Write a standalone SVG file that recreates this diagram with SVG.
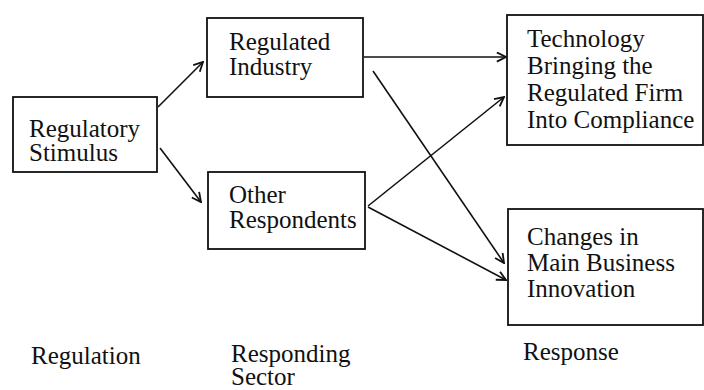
<svg xmlns="http://www.w3.org/2000/svg" width="704" height="390" viewBox="0 0 704 390">
<style>
.box{fill:#fff;stroke:#111;stroke-width:1.8}
.t{font-family:"Liberation Serif","Times New Roman",serif;font-size:25px;fill:#111}
.c{fill:none;stroke:#111;stroke-width:1.6}
</style>
<defs>
<marker id="arr" viewBox="0 0 12 12" refX="11" refY="6" markerWidth="11" markerHeight="11" markerUnits="userSpaceOnUse" orient="auto">
<path d="M1,1 L11,6 L1,11" fill="none" stroke="#111" stroke-width="2"/>
</marker>
</defs>
<rect width="704" height="390" fill="#fff"/>
<g id="connectors">
<line class="c" x1="158" y1="107" x2="203" y2="62" marker-end="url(#arr)"/>
<line class="c" x1="160" y1="148" x2="201" y2="202" marker-end="url(#arr)"/>
<line class="c" x1="364" y1="57" x2="506" y2="57" marker-end="url(#arr)"/>
<line class="c" x1="373" y1="71" x2="504" y2="263" marker-end="url(#arr)"/>
<line class="c" x1="368" y1="206" x2="504" y2="97" marker-end="url(#arr)"/>
<line class="c" x1="368" y1="207" x2="506" y2="280" marker-end="url(#arr)"/>
</g>
<g id="stimulus">
<rect class="box" x="13" y="97" width="144" height="75"/>
<text class="t" x="29" y="137">Regulatory</text>
<text class="t" x="29" y="161">Stimulus</text>
</g>
<g id="regulated">
<rect class="box" x="207" y="18" width="156" height="79"/>
<text class="t" x="229" y="50">Regulated</text>
<text class="t" x="229" y="75">Industry</text>
</g>
<g id="other">
<rect class="box" x="208" y="172" width="157" height="77"/>
<text class="t" x="229" y="203">Other</text>
<text class="t" x="229" y="228">Respondents</text>
</g>
<g id="technology">
<rect class="box" x="507" y="15" width="196" height="130"/>
<text class="t" x="527" y="47">Technology</text>
<text class="t" x="527" y="74">Bringing the</text>
<text class="t" x="527" y="101">Regulated Firm</text>
<text class="t" x="527" y="128">Into Compliance</text>
</g>
<g id="changes">
<rect class="box" x="508" y="209" width="195" height="116"/>
<text class="t" x="527" y="245">Changes in</text>
<text class="t" x="527" y="271">Main Business</text>
<text class="t" x="527" y="297">Innovation</text>
</g>
<g id="labels">
<text class="t" x="31" y="364">Regulation</text>
<text class="t" x="231" y="362">Responding</text>
<text class="t" x="231" y="385">Sector</text>
<text class="t" x="523" y="360">Response</text>
</g>
</svg>
